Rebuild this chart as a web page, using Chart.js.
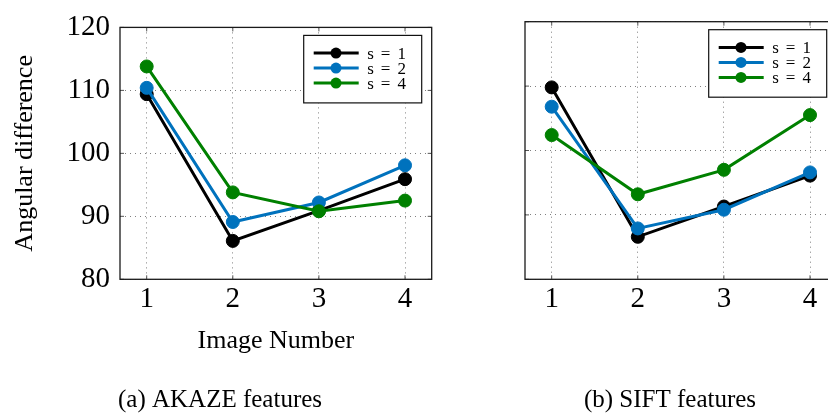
<!DOCTYPE html>
<html>
<head>
<meta charset="utf-8">
<script src="https://cdn.jsdelivr.net/npm/chart.js@4/dist/chart.umd.min.js"></script>
<style>
  html, body { margin: 0; padding: 0; background: #fff; }
  #fig { position: relative; width: 828px; height: 416px; overflow: hidden; }
  .panel { position: absolute; top: 0; }
  #akaze { left: 0; }
  #sift { left: 460px; }
</style>
</head>
<body>
<div id="fig">
  <div class="panel" id="akaze"><canvas id="chartAkaze" width="440" height="416"></canvas></div>
  <div class="panel" id="sift"><canvas id="chartSift" width="420" height="416"></canvas></div>
</div>
<script>
// Image indices on the x axis and their tick labels
const imageNumbers = [1, 2, 3, 4];
const tickLabels = ['1', '2', '3', '4'];
const yTicks = [80, 90, 100, 110, 120];

// Series names (scale factor s)
const seriesLabels = ['s = 1', 's = 2', 's = 4'];

// Angular difference, AKAZE features
const akazeS1 = [109.4, 86.1, 90.9, 95.9];
const akazeS2 = [110.4, 89.1, 92.2, 98.1];
const akazeS4 = [113.8, 93.8, 90.8, 92.5];

// Angular difference, SIFT features
const siftS1 = [109.8, 86.6, 91.3, 96.1];
const siftS2 = [106.8, 87.9, 90.8, 96.6];
const siftS4 = [102.4, 93.2, 97.0, 105.5];

const seriesColors = ['#000000', '#0072BD', '#008000'];
const FONT = '"Liberation Serif", "Times New Roman", serif';

// Closed frame around the plot area with short inward tick marks
const framePlugin = {
  id: 'frame',
  beforeDatasetsDraw(chart) {
    const { ctx, chartArea: a, scales } = chart;
    ctx.save();
    ctx.strokeStyle = '#555';
    ctx.lineWidth = 1;
    const t = 4;
    ctx.beginPath();
    scales.x.ticks.forEach(tk => {
      const px = scales.x.getPixelForValue(tk.value);
      ctx.moveTo(px, a.bottom); ctx.lineTo(px, a.bottom - t);
      ctx.moveTo(px, a.top); ctx.lineTo(px, a.top + t);
    });
    scales.y.ticks.forEach(tk => {
      const py = scales.y.getPixelForValue(tk.value);
      ctx.moveTo(a.left, py); ctx.lineTo(a.left + t, py);
      ctx.moveTo(a.right, py); ctx.lineTo(a.right - t, py);
    });
    ctx.stroke();
    ctx.strokeStyle = '#1a1a1a';
    ctx.lineWidth = 1.3;
    ctx.strokeRect(a.left, a.top, a.right - a.left, a.bottom - a.top);
    ctx.restore();
  }
};

// Boxed legend in the upper-right corner of the plot area
const boxLegendPlugin = {
  id: 'boxLegend',
  afterDatasetsDraw(chart) {
    const { ctx, chartArea: a } = chart;
    const w = 118, h = 67.5;
    const x0 = a.right - 10 - w, y0 = a.top + 8;
    ctx.save();
    ctx.fillStyle = '#fff';
    ctx.fillRect(x0, y0, w, h);
    ctx.strokeStyle = '#111';
    ctx.lineWidth = 1.2;
    ctx.strokeRect(x0, y0, w, h);
    chart.data.datasets.forEach((ds, i) => {
      const cy = y0 + 17.7 + i * 15;
      ctx.strokeStyle = ds.borderColor;
      ctx.lineWidth = 3;
      ctx.beginPath();
      ctx.moveTo(x0 + 10, cy);
      ctx.lineTo(x0 + 55, cy);
      ctx.stroke();
      ctx.beginPath();
      ctx.arc(x0 + 32.3, cy, 5.5, 0, Math.PI * 2);
      ctx.fillStyle = ds.borderColor;
      ctx.fill();
      ctx.fillStyle = '#000';
      ctx.font = 'normal normal 17px "Liberation Serif"';
      ctx.textBaseline = 'middle';
      ctx.textAlign = 'left';
      const parts = ds.label.split(' ');
      let tx = x0 + 63.5;
      parts.forEach(p => {
        ctx.fillText(p, tx, cy + 1);
        tx += ctx.measureText(p).width + 7;
      });
    });
    ctx.restore();
  }
};

function makeDatasets(values) {
  return values.map((arr, i) => ({
    label: seriesLabels[i],
    data: imageNumbers.map((x, k) => ({ x: x, y: arr[k] })),
    borderColor: seriesColors[i],
    backgroundColor: seriesColors[i],
    pointBackgroundColor: seriesColors[i],
    pointBorderColor: seriesColors[i],
    borderWidth: 3,
    pointRadius: 6.5,
    pointBorderWidth: 1,
    tension: 0,
    fill: false,
    order: values.length - i
  }));
}

function makePanel(canvasId, caption, values, cfg) {
  const gridStyle = { color: 'rgba(0,0,0,0.5)', lineWidth: 1, drawTicks: false };
  return new Chart(document.getElementById(canvasId), {
    type: 'line',
    data: { datasets: makeDatasets(values) },
    plugins: [framePlugin, boxLegendPlugin],
    options: {
      responsive: false,
      animation: false,
      layout: { padding: { left: cfg.padLeft, right: cfg.padRight, top: 21.7, bottom: 0 } },
      plugins: {
        legend: { display: false },
        tooltip: { enabled: false },
        title: {
          display: true,
          position: 'bottom',
          text: caption,
          color: '#000',
          font: { family: FONT, size: 25, weight: 'normal' },
          padding: { top: 0, bottom: 1 }
        }
      },
      scales: {
        x: {
          type: 'linear',
          min: 0.69,
          max: 4.31,
          afterBuildTicks: s => { s.ticks = imageNumbers.map(v => ({ value: v })); },
          afterFit: s => { s.height = 105.7; },
          grid: gridStyle,
          border: { display: false, dash: [1, 4] },
          ticks: {
            padding: 2.3,
            maxRotation: 0,
            color: '#000',
            font: { family: FONT, size: 29 },
            callback: v => tickLabels[imageNumbers.indexOf(v)]
          },
          title: {
            display: cfg.showXTitle,
            text: 'Image Number',
            color: '#000',
            font: { family: FONT, size: 26 },
            padding: { top: 0, bottom: 28.1 }
          }
        },
        y: {
          type: 'linear',
          min: yTicks[0],
          max: yTicks[yTicks.length - 1],
          afterBuildTicks: s => { s.ticks = yTicks.map(v => ({ value: v })); },
          afterFit: s => { s.width = cfg.yWidth; },
          grid: gridStyle,
          border: { display: false, dash: [1, 4] },
          ticks: {
            display: cfg.showY,
            padding: 10,
            color: '#000',
            font: { family: FONT, size: 29 }
          },
          title: {
            display: cfg.showY,
            text: 'Angular difference',
            color: '#000',
            font: { family: FONT, size: 26 },
            padding: { top: 1.1, bottom: 0 }
          }
        }
      }
    }
  });
}

makePanel('chartAkaze', '(a) AKAZE features', [akazeS1, akazeS2, akazeS4],
  { padLeft: 8.3, padRight: 8.3, yWidth: 111.7, showY: true, showXTitle: true });
makePanel('chartSift', '(b) SIFT features', [siftS1, siftS2, siftS4],
  { padLeft: 43.3, padRight: 43.3, yWidth: 21.7, showY: false, showXTitle: false });
</script>
</body>
</html>
